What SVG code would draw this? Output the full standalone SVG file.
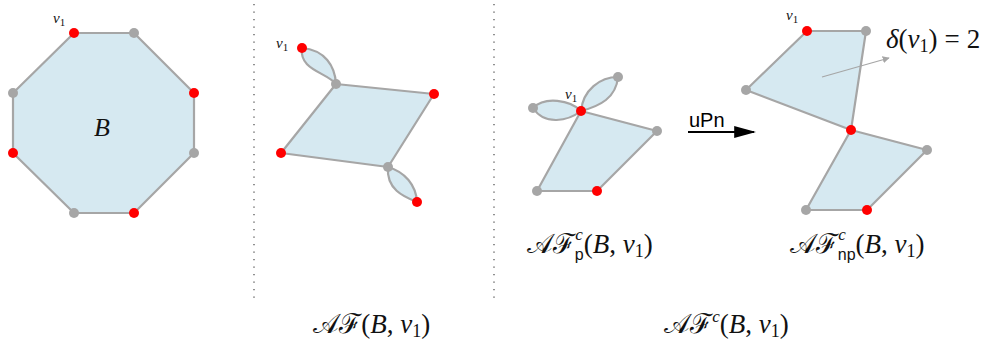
<svg xmlns="http://www.w3.org/2000/svg" width="995" height="347" viewBox="0 0 995 347">
<defs>
<style>
.face{fill:#d6e9f1;stroke:#a6a6a6;stroke-width:2.2;stroke-linejoin:round}
.r{fill:#ff0000}
.g{fill:#a6a6a6}
.sep{stroke:#555;stroke-width:1.3;stroke-dasharray:1.3 6.2}
.m{font-family:"Liberation Serif","DejaVu Serif",serif;fill:#111}
.it{font-style:italic}
.cal{font-family:"DejaVu Serif","Noto Sans",serif;font-style:normal}
.sf{font-family:"Liberation Sans","DejaVu Sans",sans-serif}
</style>
<marker id="ah" viewBox="0 0 10 10" refX="9" refY="5" markerWidth="7" markerHeight="7" markerUnits="userSpaceOnUse" orient="auto"><path d="M0,0 L10,5 L0,10 z" fill="#a6a6a6"/></marker>
<marker id="ab" viewBox="0 0 10 10" refX="9" refY="5" markerWidth="22" markerHeight="12" markerUnits="userSpaceOnUse" orient="auto" preserveAspectRatio="none"><path d="M0,0 L10,5 L0,10 z" fill="#000"/></marker>
</defs>

<g id="separators">
<line class="sep" x1="254" y1="4" x2="254" y2="298"/>
<line class="sep" x1="494" y1="4" x2="494" y2="298"/>
</g>

<g id="octagon">
<polygon class="face" points="74,33 134,33 194,93 194,153 134,213 74,213 13,153 13,93"/>
<circle class="r" cx="74" cy="33" r="5"/><circle class="g" cx="134" cy="33" r="5"/>
<circle class="r" cx="194" cy="93" r="5"/><circle class="g" cx="194" cy="153" r="5"/>
<circle class="r" cx="134" cy="213" r="5"/><circle class="g" cx="74" cy="213" r="5"/>
<circle class="r" cx="13" cy="153" r="5"/><circle class="g" cx="13" cy="93" r="5"/>
<text class="m it" x="53" y="23" font-size="15">v<tspan font-style="normal" font-size="11" dy="3">1</tspan></text>
<text class="m it" x="94" y="136" font-size="26">B</text>
</g>

<g id="af">
<path class="face" d="M302,48 C299,70 326,72 336,84 C335,66 325,50 302,48 Z"/>
<path class="face" d="M388,167 C386,190 405,197 417,202 C416,185 405,172 388,167 Z"/>
<polygon class="face" points="336,84 434,94 388,167 281,153"/>
<circle class="r" cx="302" cy="48" r="5"/><circle class="g" cx="336" cy="84" r="5"/>
<circle class="r" cx="434" cy="94" r="5"/><circle class="r" cx="281" cy="153" r="5"/>
<circle class="g" cx="388" cy="167" r="5"/><circle class="r" cx="417" cy="202" r="5"/>
<text class="m it" x="276" y="48" font-size="15">v<tspan font-style="normal" font-size="11" dy="3">1</tspan></text>
<text class="m" x="313" y="333" font-size="27"><tspan class="cal">𝒜ℱ</tspan>(<tspan class="it">B</tspan>, <tspan class="it">v</tspan><tspan font-size="18" dy="4">1</tspan><tspan dy="-4">)</tspan></text>
</g>

<g id="afp">
<path class="face" d="M533,108 C545,96 570,100 581,111 C568,121 545,126 533,108 Z"/>
<path class="face" d="M581,111 C583,90 600,77 618,77 C616,98 600,106 581,111 Z"/>
<polygon class="face" points="581,111 657,131 597,191 537,191"/>
<circle class="g" cx="533" cy="108" r="5"/><circle class="g" cx="618" cy="77" r="5"/>
<circle class="g" cx="657" cy="131" r="5"/><circle class="r" cx="597" cy="191" r="5"/>
<circle class="g" cx="537" cy="191" r="5"/><circle class="r" cx="581" cy="111" r="5"/>
<text class="m it" x="565" y="99" font-size="15">v<tspan font-style="normal" font-size="11" dy="3">1</tspan></text>
<text class="m" x="527" y="253" font-size="27"><tspan class="cal">𝒜ℱ</tspan><tspan class="it" font-size="17" dy="-13">c</tspan><tspan class="sf" font-size="16" dx="-8" dy="20">p</tspan><tspan dy="-7">(</tspan><tspan class="it">B</tspan>, <tspan class="it">v</tspan><tspan font-size="18" dy="4">1</tspan><tspan dy="-4">)</tspan></text>
</g>

<g id="upn">
<line x1="688" y1="132" x2="754" y2="132" stroke="#000" stroke-width="2.2" marker-end="url(#ab)"/>
<text class="sf" x="689" y="127" font-size="20" fill="#000">uPn</text>
</g>

<g id="afnp">
<polygon class="face" points="807,31 866,31 851,130 746,90"/>
<polygon class="face" points="851,130 927,150 867,210 806,210"/>
<circle class="r" cx="807" cy="31" r="5"/><circle class="g" cx="866" cy="31" r="5"/>
<circle class="g" cx="746" cy="90" r="5"/><circle class="g" cx="927" cy="150" r="5"/>
<circle class="r" cx="867" cy="210" r="5"/><circle class="g" cx="806" cy="210" r="5"/>
<circle class="r" cx="851" cy="130" r="5"/>
<text class="m it" x="786" y="20" font-size="15">v<tspan font-style="normal" font-size="11" dy="3">1</tspan></text>
<line x1="822" y1="77" x2="889" y2="58" stroke="#a6a6a6" stroke-width="1.2" marker-end="url(#ah)"/>
<text class="m" x="886" y="48" font-size="27"><tspan class="it">δ</tspan>(<tspan class="it">v</tspan><tspan font-size="18" dy="4">1</tspan><tspan dy="-4">)</tspan><tspan dx="7">=</tspan><tspan dx="7">2</tspan></text>
<text class="m" x="790" y="253" font-size="27"><tspan class="cal">𝒜ℱ</tspan><tspan class="it" font-size="17" dy="-13">c</tspan><tspan class="sf" font-size="16" dx="-8" dy="20">np</tspan><tspan dy="-7">(</tspan><tspan class="it">B</tspan>, <tspan class="it">v</tspan><tspan font-size="18" dy="4">1</tspan><tspan dy="-4">)</tspan></text>
</g>

<g id="afc">
<text class="m" x="664" y="333" font-size="27"><tspan class="cal">𝒜ℱ</tspan><tspan class="it" font-size="17" dy="-11">c</tspan><tspan dy="11">(</tspan><tspan class="it">B</tspan>, <tspan class="it">v</tspan><tspan font-size="18" dy="4">1</tspan><tspan dy="-4">)</tspan></text>
</g>
</svg>
